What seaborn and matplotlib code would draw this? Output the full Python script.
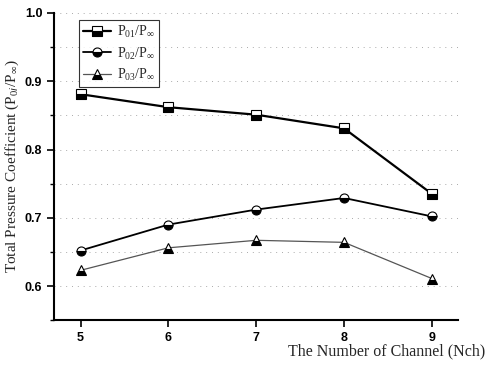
import pandas as pd
import matplotlib.pyplot as plt
import seaborn as sns
from matplotlib.ticker import MultipleLocator

# values
nch = [5, 6, 7, 8, 9]
p01 = [0.881, 0.862, 0.851, 0.831, 0.735]
p02 = [0.652, 0.690, 0.712, 0.729, 0.702]
p03 = [0.623, 0.656, 0.667, 0.664, 0.611]
labels = ['P$_{01}$/P$_{\\infty}$', 'P$_{02}$/P$_{\\infty}$', 'P$_{03}$/P$_{\\infty}$']
yticks = [0.6, 0.7, 0.8, 0.9, 1.0]

sns.set_style("white")
plt.rcParams['mathtext.fontset'] = 'custom'
plt.rcParams['mathtext.rm'] = 'Liberation Serif'

fig = plt.figure(figsize=(4.88, 3.71), dpi=100)
ax = fig.add_axes([0.111, 0.137, 0.828, 0.828])

styles = [
    dict(marker='s', color='black', linewidth=1.6, linestyle='-'),
    dict(marker='o', color='black', linewidth=1.3, linestyle='-'),
    dict(marker='^', color='#555555', linewidth=0.9, linestyle='-'),
]
for vals, lab, st in zip([p01, p02, p03], labels, styles):
    sns.lineplot(x=nch, y=vals, ax=ax, label=lab, markersize=6.5,
                 fillstyle='bottom', markerfacecoloralt='white',
                 markeredgecolor='black', markerfacecolor='black',
                 markeredgewidth=0.8, **st)

ax.set_xlim(4.7, 9.3)
ax.set_ylim(0.55, 1.0)
ax.set_xticks(nch)
ax.set_yticks(yticks)
ax.yaxis.set_minor_locator(MultipleLocator(0.05))
ax.yaxis.grid(True, which='both', linestyle=(0, (1, 5)), color='#aaaaaa', linewidth=0.7)
ax.set_axisbelow(True)

for s in ['top', 'right']:
    ax.spines[s].set_visible(False)
for s in ['left', 'bottom']:
    ax.spines[s].set_color('black')
    ax.spines[s].set_linewidth(1.5)

ax.tick_params(axis='both', which='major', direction='out', length=5, width=1.2,
               colors='black', left=True, bottom=True)
ax.tick_params(axis='y', which='minor', direction='out', length=3, width=1.0,
               color='black', left=True)
ax.set_xticklabels([str(v) for v in nch], fontfamily='Liberation Sans',
                   fontweight='bold', fontsize=9)
ax.set_yticklabels([f'{v:.1f}' for v in yticks], fontfamily='Liberation Sans',
                   fontweight='bold', fontsize=9)

ax.set_ylabel('Total Pressure Coefficient (P$_{0i}$/P$_{\\infty}$)',
              fontfamily='Liberation Serif', fontsize=11, labelpad=3)
ax.set_xlabel('')
fig.text(0.995, 0.03, 'The Number of Channel (Nch)', ha='right', va='bottom',
         fontfamily='Liberation Serif', fontsize=11.5)

leg = ax.legend(loc='upper left', bbox_to_anchor=(0.045, 1.0), frameon=True,
                fancybox=False, edgecolor='black',
                prop={'family': 'Liberation Serif', 'size': 10},
                handlelength=2.0, borderpad=0.3, labelspacing=0.35,
                handletextpad=0.4)
leg.get_frame().set_linewidth(0.8)

fig.savefig('out.png', dpi=100)
